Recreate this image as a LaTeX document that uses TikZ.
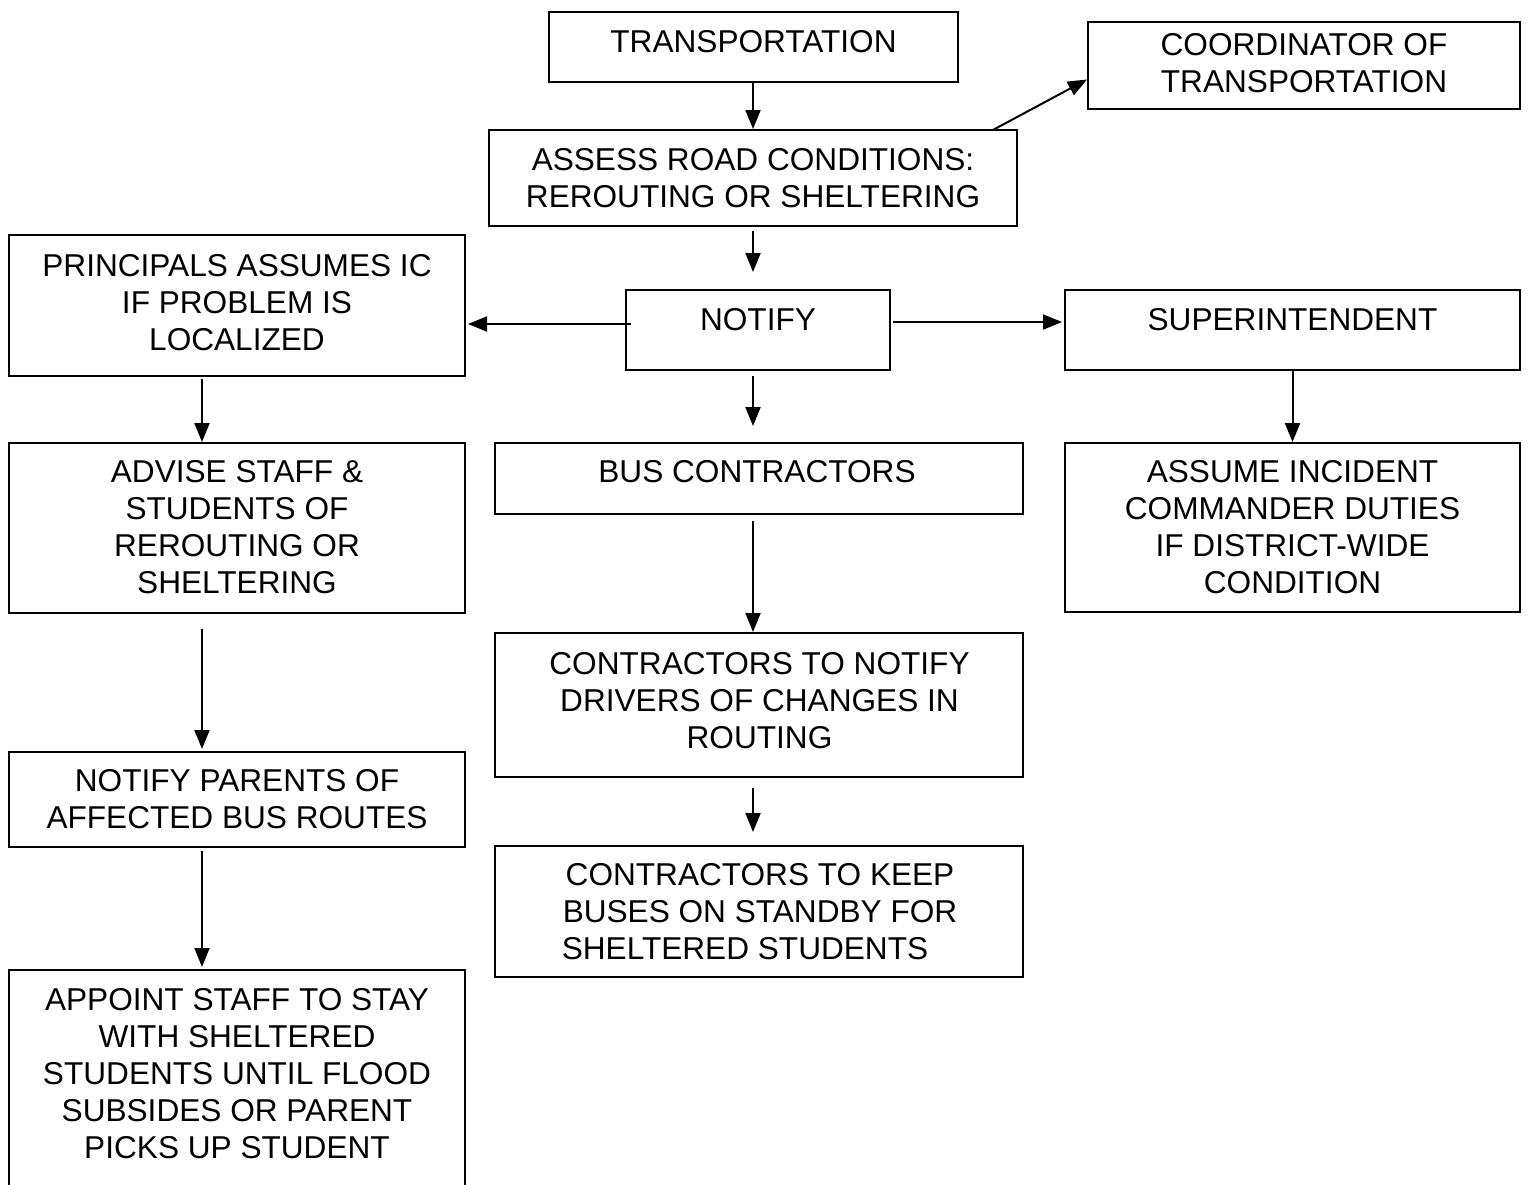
\documentclass[tikz,border=0pt]{standalone}
\usepackage{fontspec}
\setmainfont{Liberation Sans}
\usetikzlibrary{arrows.meta}
\begin{document}
\begin{tikzpicture}[x=0.5pt,y=-0.5pt,
  box/.style={draw=black, line width=1pt, rectangle, inner sep=0pt},
  txt/.style={align=center, inner sep=0pt, font=\fontsize{15.8pt}{18.5pt}\selectfont},
  arr/.style={draw=black, line width=1pt, -{Triangle[length=9.5pt,width=7.5pt]}}]
\clip (0,0) rectangle (1531,1184);
\fill[white] (0,0) rectangle (1531,1184);

% boxes
\node[box, minimum width=204.5pt, minimum height=35pt]   (trans)   at (753.5,47)  {};
\node[box, minimum width=216pt,   minimum height=43.5pt] (coord)   at (1304,65.5) {};
\node[box, minimum width=264pt,   minimum height=48pt]   (assess)  at (753,178)   {};
\node[box, minimum width=228pt,   minimum height=70.5pt] (princ)   at (237,305.5) {};
\node[box, minimum width=132pt,   minimum height=40pt]   (notify)  at (758,330)   {};
\node[box, minimum width=227.5pt, minimum height=40pt]   (super)   at (1292.5,330){};
\node[box, minimum width=228pt,   minimum height=85pt]   (advise)  at (237,528)   {};
\node[box, minimum width=264pt,   minimum height=35.5pt] (bus)     at (759,478.5) {};
\node[box, minimum width=227.5pt, minimum height=84.5pt] (assume)  at (1292.5,527.5){};
\node[box, minimum width=264pt,   minimum height=72pt]   (cnotify) at (759,705)   {};
\node[box, minimum width=228pt,   minimum height=47.5pt] (parents) at (237,799.5) {};
\node[box, minimum width=264pt,   minimum height=65.5pt] (keep)    at (759,911.5) {};
\node[box, minimum width=228pt,   minimum height=150pt]  (appoint) at (237,1120)  {};

% labels
\node[txt] (transT)   at (753.5,42)   {TRANSPORTATION};
\node[txt] (coordT)   at (1304,63.5)  {COORDINATOR OF\\TRANSPORTATION};
\node[txt] (assessT)  at (753,178.5)  {ASSESS ROAD CONDITIONS:\\REROUTING OR SHELTERING};
\node[txt] (princT)   at (237,303)    {PRINCIPALS ASSUMES IC\\IF PROBLEM IS\\LOCALIZED};
\node[txt] (notifyT)  at (758,320)    {NOTIFY};
\node[txt] (superT)   at (1292.5,320) {SUPERINTENDENT};
\node[txt] (adviseT)  at (237,527.5)  {ADVISE STAFF \&\\STUDENTS OF\\REROUTING OR\\SHELTERING};
\node[txt] (busT)     at (757,472)    {BUS CONTRACTORS};
\node[txt] (assumeT)  at (1292.5,527) {ASSUME INCIDENT\\COMMANDER DUTIES\\IF DISTRICT-WIDE\\CONDITION};
\node[txt] (cnotifyT) at (759.5,701)  {CONTRACTORS TO NOTIFY\\DRIVERS OF CHANGES IN\\ROUTING};
\node[txt] (parentsT) at (237,799.5)  {NOTIFY PARENTS OF\\AFFECTED BUS ROUTES};
\node[txt] (keepT)    at (760,912)    {CONTRACTORS TO KEEP\\BUSES ON STANDBY FOR\\SHELTERED STUDENTS\hspace*{15pt}};
\node[txt] (appointT) at (237,1074)   {APPOINT STAFF TO STAY\\WITH SHELTERED\\STUDENTS UNTIL FLOOD\\SUBSIDES OR PARENT\\PICKS UP STUDENT};

% connectors
\draw[arr] (trans.south -| assess.south) -- (assess.north);
\draw[arr, shorten <=1pt] ([xshift=119pt,yshift=-1pt]assess.north) -- ([yshift=-7pt]coord.west);
\draw[arr, shorten <=2pt, shorten >=8.5pt] (assess.south) -- (assess.south |- notify.north);
\draw[arr, shorten <=-3pt, shorten >=1pt] ([yshift=3pt]notify.west) -- ([yshift=3pt]notify.west -| princ.east);
\draw[arr, shorten <=1pt, shorten >=1pt] ([yshift=4pt]notify.east) -- ([yshift=4pt]notify.east -| super.west);
\draw[arr, shorten <=2.5pt, shorten >=8pt] (notify.south -| assess.south) -- (bus.north -| assess.south);
\draw[arr] (super.south) -- (assume.north);
\draw[arr, shorten <=1pt] ([xshift=-17.5pt]princ.south) -- ([xshift=-17.5pt]advise.north);
\draw[arr, shorten <=3pt] (bus.south -| assess.south) -- (cnotify.north -| assess.south);
\draw[arr, shorten <=5pt, shorten >=6.5pt] (cnotify.south -| assess.south) -- (keep.north -| assess.south);
\draw[arr, shorten <=7.5pt, shorten >=1pt] ([xshift=-17.5pt]advise.south) -- ([xshift=-17.5pt]parents.north);
\draw[arr, shorten <=1.5pt, shorten >=1pt] ([xshift=-17.5pt]parents.south) -- ([xshift=-17.5pt]appoint.north);
\end{tikzpicture}
\end{document}
